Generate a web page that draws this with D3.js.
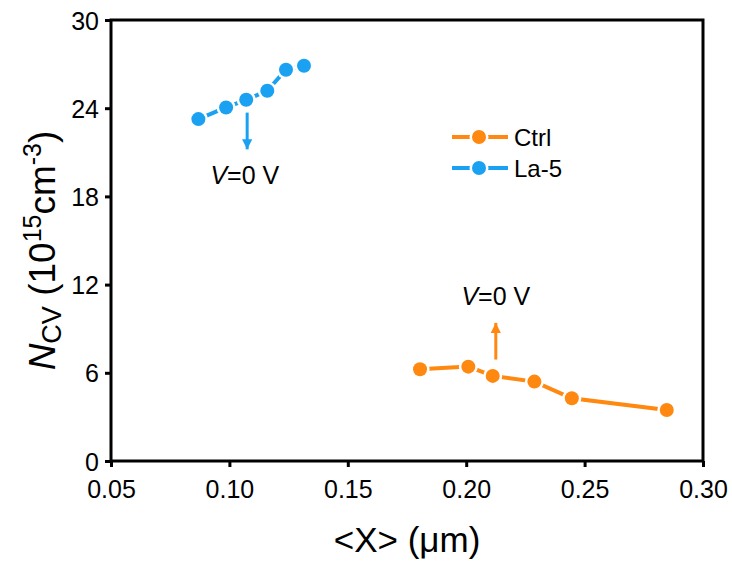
<!DOCTYPE html>
<html>
<head>
<meta charset="utf-8">
<script src="https://cdn.jsdelivr.net/npm/d3@7"></script>
<style>
  html, body { margin: 0; padding: 0; background: #fff; }
  svg { display: block; font-family: Arial, "Liberation Sans", Helvetica, sans-serif; }
</style>
</head>
<body>
<svg id="chart" width="732" height="562"></svg>
<script>
// Series data: mean depth <X> (µm) vs. C-V doping density (10^15 cm^-3)
const ctrlX = [0.1805, 0.2009, 0.2112, 0.2288, 0.2446, 0.2847];
const ctrlY = [6.24, 6.42, 5.79, 5.40, 4.27, 3.47];
const la5X = [0.0869, 0.0986, 0.1071, 0.1160, 0.1239, 0.1315];
const la5Y = [23.26, 24.05, 24.57, 25.19, 26.62, 26.89];

const seriesNames = ["Ctrl", "La-5"];
const seriesColors = ["#ff8811", "#1ba1f2"];

const xTicks = [0.05, 0.10, 0.15, 0.20, 0.25, 0.30];
const yTicks = [0, 6, 12, 18, 24, 30];

// Zero-bias markers: [x, y of arrow base, y of arrow tip]
const ctrlArrow = [0.2125, 6.9, 9.4];
const la5Arrow = [0.1075, 23.7, 21.2];

const svg = d3.select("#chart");
const margin = { left: 111, right: 29, top: 20, bottom: 101 };
const W = 732, H = 562;
const pw = W - margin.left - margin.right;
const ph = H - margin.top - margin.bottom;

const x = d3.scaleLinear().domain([0.05, 0.30]).range([margin.left, margin.left + pw]);
const y = d3.scaleLinear().domain([0, 30]).range([margin.top + ph, margin.top]);

const defs = svg.append("defs");
seriesColors.forEach((c, i) => {
  defs.append("marker")
    .attr("id", "arrow" + i)
    .attr("viewBox", "0 0 10 10")
    .attr("refX", 10).attr("refY", 5)
    .attr("markerWidth", 3.4).attr("markerHeight", 3.6)
    .attr("markerUnits", "strokeWidth")
    .attr("orient", "auto")
    .append("path").attr("d", "M0,0 L10,5 L0,10 Z").attr("fill", c);
});

// Axes
const xAxis = d3.axisBottom(x).tickValues(xTicks).tickFormat(d3.format(".2f")).tickSize(6).tickSizeOuter(0);
const yAxis = d3.axisLeft(y).tickValues(yTicks).tickFormat(d3.format("d")).tickSize(6).tickSizeOuter(0);

const gx = svg.append("g").attr("transform", `translate(0,${margin.top + ph})`).call(xAxis);
const gy = svg.append("g").attr("transform", `translate(${margin.left},0)`).call(yAxis);
[gx, gy].forEach(g => {
  g.select(".domain").remove();
  g.selectAll(".tick line").attr("stroke", "#000").attr("stroke-width", 3);
  g.selectAll(".tick text").attr("fill", "#000").attr("font-size", 25).attr("font-family", "Arial, 'Liberation Sans', sans-serif");
});
gx.selectAll(".tick text").attr("y", 13).attr("dy", "0.95em");
gy.selectAll(".tick text").attr("x", -12).attr("dy", "0.36em");

// Frame
svg.append("rect")
  .attr("x", margin.left).attr("y", margin.top)
  .attr("width", pw).attr("height", ph)
  .attr("fill", "none").attr("stroke", "#000").attr("stroke-width", 3);

// Series
const series = [
  { xs: ctrlX, ys: ctrlY },
  { xs: la5X, ys: la5Y }
];
const line = d3.line().x(d => x(d[0])).y(d => y(d[1]));
series.forEach((s, i) => {
  const pts = s.xs.map((v, k) => [v, s.ys[k]]);
  const g = svg.append("g");
  g.append("path").datum(pts).attr("d", line)
    .attr("fill", "none").attr("stroke", seriesColors[i]).attr("stroke-width", 4);
  g.selectAll("circle.halo").data(pts).join("circle").attr("class", "halo")
    .attr("cx", d => x(d[0])).attr("cy", d => y(d[1])).attr("r", 9.5).attr("fill", "#fff");
  g.selectAll("circle.dot").data(pts).join("circle").attr("class", "dot")
    .attr("cx", d => x(d[0])).attr("cy", d => y(d[1])).attr("r", 7).attr("fill", seriesColors[i]);
});

// Zero-bias arrows and labels
[ctrlArrow, la5Arrow].forEach((a, i) => {
  svg.append("line")
    .attr("x1", x(a[0])).attr("x2", x(a[0]))
    .attr("y1", y(a[1])).attr("y2", y(a[2]))
    .attr("stroke", seriesColors[i]).attr("stroke-width", 3)
    .attr("marker-end", `url(#arrow${i})`);
});
function vLabel(cx, cy) {
  const t = svg.append("text").attr("x", cx).attr("y", cy)
    .attr("text-anchor", "middle").attr("font-size", 25).attr("fill", "#000");
  t.append("tspan").attr("font-style", "italic").text("V");
  t.append("tspan").text("=0 V");
}
vLabel(x(0.2125), y(10.6));
vLabel(x(0.1065), y(18.85));

// Legend
const legend = svg.append("g");
seriesNames.forEach((name, i) => {
  const ly = 137 + i * 31;
  legend.append("line").attr("x1", 452).attr("x2", 508).attr("y1", ly).attr("y2", ly)
    .attr("stroke", seriesColors[i]).attr("stroke-width", 4);
  legend.append("circle").attr("cx", 479).attr("cy", ly).attr("r", 9.5).attr("fill", "#fff");
  legend.append("circle").attr("cx", 479).attr("cy", ly).attr("r", 7).attr("fill", seriesColors[i]);
  legend.append("text").attr("x", 514).attr("y", ly).attr("dy", "0.36em")
    .attr("font-size", 24).attr("fill", "#000").text(name);
});

// Axis titles
svg.append("text")
  .attr("x", margin.left + pw / 2).attr("y", 552)
  .attr("text-anchor", "middle").attr("font-size", 35).attr("fill", "#000")
  .text("<X> (μm)");

const yt = svg.append("text")
  .attr("transform", `translate(55,${margin.top + ph / 2 + 10}) rotate(-90)`)
  .attr("text-anchor", "middle").attr("font-size", 37).attr("fill", "#000");
yt.append("tspan").attr("font-style", "italic").text("N");
yt.append("tspan").attr("font-size", 27).attr("dy", 6).text("CV");
yt.append("tspan").attr("dy", -6).text(" (10");
yt.append("tspan").attr("font-size", 25).attr("dy", -14).text("15");
yt.append("tspan").attr("dy", 14).text("cm");
yt.append("tspan").attr("font-size", 25).attr("dy", -14).text("-3");
yt.append("tspan").attr("dy", 14).text(")");
</script>
</body>
</html>
